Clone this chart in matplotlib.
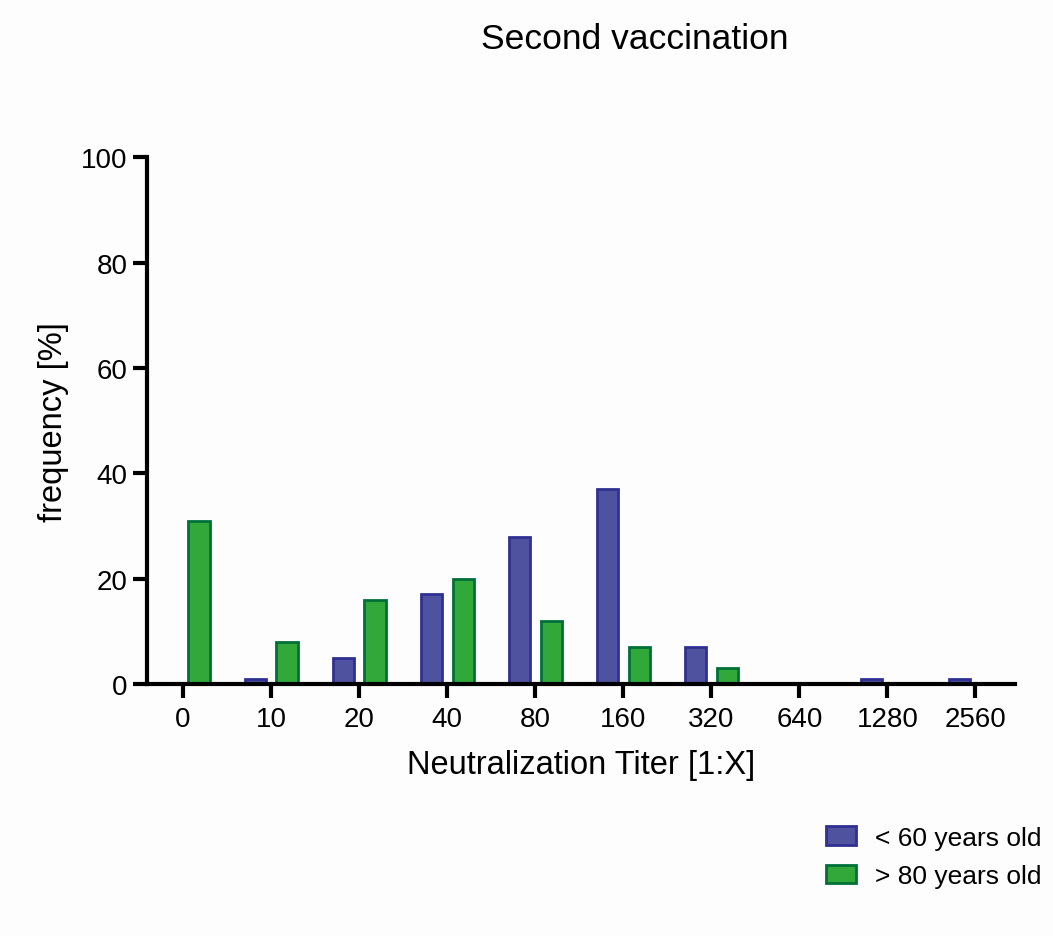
import numpy as np
import matplotlib.pyplot as plt

plt.rcParams['font.family'] = ['Liberation Sans', 'DejaVu Sans']

# titer categories and frequencies [%]
titers = ['0', '10', '20', '40', '80', '160', '320', '640', '1280', '2560']
under_60 = [0, 1, 5, 17, 28, 37, 7, 0, 1, 1]
over_80 = [31, 8, 16, 20, 12, 7, 3, 0, 0, 0]

blue_fill, blue_edge = '#4f529e', '#2e3192'
green_fill, green_edge = '#33a83a', '#007038'

fig = plt.figure(figsize=(10.53, 9.37), dpi=100, facecolor='#fdfdfd')
ax = fig.add_axes([0.1396, 0.269, 0.8244, 0.562])
ax.set_facecolor('#fdfdfd')

x = np.arange(len(titers))
w = 0.24
off = 0.18
ax.bar(x - off, under_60, w, color=blue_fill, edgecolor=blue_edge, linewidth=2,
       label='< 60 years old')
ax.bar(x + off, over_80, w, color=green_fill, edgecolor=green_edge, linewidth=2,
       label='> 80 years old')

ax.set_xlim(-0.41, 9.45)
ax.set_ylim(0, 100)
ax.set_yticks([0, 20, 40, 60, 80, 100])
ax.set_xticks(x)
ax.set_xticklabels(titers)

for s in ['top', 'right']:
    ax.spines[s].set_visible(False)
for s in ['left', 'bottom']:
    ax.spines[s].set_linewidth(3)
ax.tick_params(width=3, length=10, labelsize=20)
ax.tick_params(axis='x', pad=6)
ax.tick_params(axis='y', pad=4)

ax.set_xlabel('Neutralization Titer [1:X]', fontsize=23.5, labelpad=12)
ax.set_ylabel('frequency [%]', fontsize=23.5, labelpad=9)
fig.text(0.603, 0.958, 'Second vaccination', fontsize=25.5, ha='center', va='center')

fig.legend(loc='upper right', bbox_to_anchor=(1.012, 0.143), frameon=False,
           fontsize=19, handlelength=1.14, handleheight=0.68, handletextpad=0.72,
           labelspacing=0.55)

fig.savefig('out.png', dpi=100, facecolor=fig.get_facecolor())
